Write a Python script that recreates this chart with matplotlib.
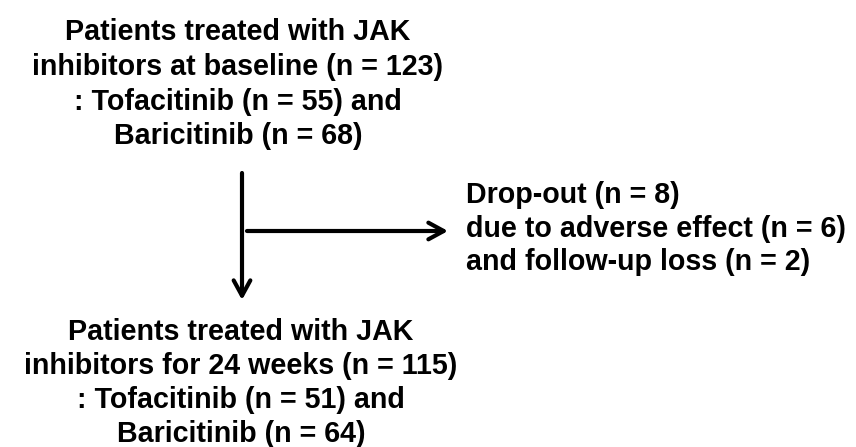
import matplotlib.pyplot as plt

plt.rcParams['font.family'] = ['Liberation Sans', 'DejaVu Sans']

# Texte der Kästen
baseline_lines = [
    "Patients treated with JAK",
    "inhibitors at baseline (n = 123)",
    ": Tofacitinib (n = 55) and",
    "Baricitinib (n = 68)",
]
dropout_lines = [
    "Drop-out (n = 8)",
    "due to adverse effect (n = 6)",
    "and follow-up loss (n = 2)",
]
week24_lines = [
    "Patients treated with JAK",
    "inhibitors for 24 weeks (n = 115)",
    ": Tofacitinib (n = 51) and",
    "Baricitinib (n = 64)",
]

fig = plt.figure(figsize=(8.56, 4.47), dpi=100)
ax = fig.add_axes([0, 0, 1, 1])
ax.set_xlim(0, 856)
ax.set_ylim(447, 0)
ax.axis('off')

fs = 20.6


def block(lines, x, y0, pitch, ha):
    # jede Zeile einzeln auf ihre Grundlinie setzen
    for i, line in enumerate(lines):
        ax.text(x, y0 + i * pitch, line, ha=ha, va='baseline',
                fontsize=fs, fontweight='bold')


block(baseline_lines, 238, 40, 34.8, 'center')
block(dropout_lines, 466, 203, 33.6, 'left')
block(week24_lines, 241, 340, 34.0, 'center')

# Pfeile
style = "->,head_length=1.1,head_width=0.6"
ax.annotate("", xy=(242, 300), xytext=(242, 173),
            arrowprops=dict(arrowstyle=style, lw=3, color='black',
                            shrinkA=0, shrinkB=0))
ax.annotate("", xy=(448, 231), xytext=(247, 231),
            arrowprops=dict(arrowstyle=style, lw=3, color='black',
                            shrinkA=0, shrinkB=0))

fig.savefig("out.png", dpi=100, facecolor='white')
